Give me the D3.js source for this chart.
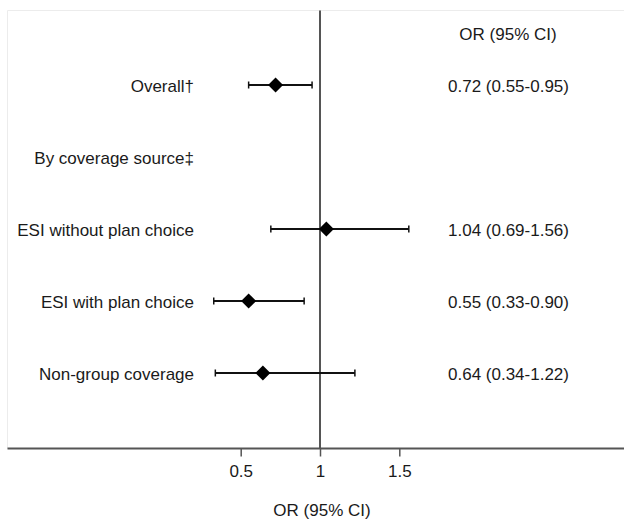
<!DOCTYPE html>
<html>
<head>
<meta charset="utf-8">
<script src="https://cdn.jsdelivr.net/npm/d3@7"></script>
<style>
  html, body { margin: 0; padding: 0; background: #fff; }
  svg { display: block; }
  text { font-family: Arial, "Liberation Sans", sans-serif; font-size: 17px; fill: #1a1a1a; }
</style>
</head>
<body>
<svg id="chart" width="625" height="520"></svg>
<script>
// ---- data ----
const labels = ["Overall†", "By coverage source‡", "ESI without plan choice", "ESI with plan choice", "Non-group coverage"];
const orValues = [0.72, null, 1.04, 0.55, 0.64];
const ciLow = [0.55, null, 0.69, 0.33, 0.34];
const ciHigh = [0.95, null, 1.56, 0.90, 1.22];
const ciText = ["0.72 (0.55-0.95)", "", "1.04 (0.69-1.56)", "0.55 (0.33-0.90)", "0.64 (0.34-1.22)"];
const tickValues = [0.5, 1, 1.5];
const axisTitle = "OR (95% CI)";
const columnHeader = "OR (95% CI)";

// ---- layout ----
const svg = d3.select("#chart");
const x = d3.scaleLinear().domain([0.5, 1.5]).range([240.7, 399.3]);
const y = d3.scalePoint().domain(labels).range([85, 373]);
const axisY = 448.5;
const frameLeft = 7.5, frameRight = 624, frameTop = 10.5;

// faint frame
svg.append("path")
  .attr("d", `M${frameLeft},${axisY}V${frameTop}H${frameRight}`)
  .attr("fill", "none").attr("stroke", "#ececec").attr("stroke-width", 1);

// reference line at OR = 1
svg.append("line")
  .attr("x1", x(1)).attr("x2", x(1))
  .attr("y1", frameTop).attr("y2", axisY)
  .attr("stroke", "#555").attr("stroke-width", 2);

// x axis
const axis = d3.axisBottom(x).tickValues(tickValues).tickFormat(d3.format("")).tickSize(8).tickPadding(6);
const gAxis = svg.append("g").attr("transform", `translate(0,${axisY})`).call(axis);
gAxis.select(".domain").remove();
gAxis.insert("line", ":first-child")
  .attr("x1", frameLeft).attr("x2", frameRight).attr("y1", 0).attr("y2", 0)
  .attr("stroke", "#555").attr("stroke-width", 2);
gAxis.selectAll(".tick line").attr("stroke", "#555").attr("stroke-width", 1.5);
gAxis.selectAll(".tick text")
  .attr("font-family", "Arial, 'Liberation Sans', sans-serif")
  .attr("font-size", 17).attr("fill", "#1a1a1a").attr("dy", null).attr("y", 28);

// axis title
svg.append("text").attr("x", 322).attr("y", 516).attr("text-anchor", "middle").text(axisTitle);

// column header
svg.append("text").attr("x", 508).attr("y", 40).attr("text-anchor", "middle").text(columnHeader);

const rows = labels.map((l, i) => ({ label: l, or: orValues[i], lo: ciLow[i], hi: ciHigh[i], txt: ciText[i] }));

// row labels
svg.selectAll(".lab").data(rows).join("text")
  .attr("class", "lab")
  .attr("x", 194).attr("y", d => y(d.label) + 6.5)
  .attr("text-anchor", "end").text(d => d.label);

// CI text
svg.selectAll(".ci").data(rows.filter(d => d.txt)).join("text")
  .attr("class", "ci")
  .attr("x", 508.5).attr("y", d => y(d.label) + 6.5)
  .attr("text-anchor", "middle").text(d => d.txt);

const est = rows.filter(d => d.or != null);
const g = svg.append("g");
// whiskers
g.selectAll(".wh").data(est).join("line")
  .attr("x1", d => x(d.lo)).attr("x2", d => x(d.hi))
  .attr("y1", d => y(d.label)).attr("y2", d => y(d.label))
  .attr("stroke", "#111").attr("stroke-width", 2);
// caps
["lo", "hi"].forEach(k => {
  g.selectAll(".cap-" + k).data(est).join("line")
    .attr("x1", d => x(d[k])).attr("x2", d => x(d[k]))
    .attr("y1", d => y(d.label) - 3.5).attr("y2", d => y(d.label) + 3.5)
    .attr("stroke", "#111").attr("stroke-width", 1.5);
});
// diamonds
g.selectAll(".dm").data(est).join("path")
  .attr("d", d => {
    const cx = x(d.or), cy = y(d.label), r = 7.5;
    return `M${cx},${cy - r}L${cx + r},${cy}L${cx},${cy + r}L${cx - r},${cy}Z`;
  })
  .attr("fill", "#000");
</script>
</body>
</html>
